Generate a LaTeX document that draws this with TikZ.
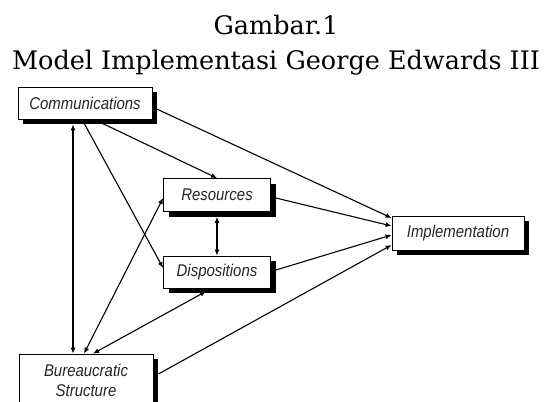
\documentclass[tikz,border=0pt]{standalone}
\usepackage{fontspec}
\setmainfont{DejaVu Serif}
\newfontfamily\boxfont[FakeStretch=0.88]{Liberation Sans}
\usetikzlibrary{arrows.meta,shadows}
\tikzset{
  factor/.style={draw,thick,fill=white,inner sep=0pt,align=center,
    font=\fontsize{17}{20}\selectfont\boxfont\itshape,text=black!85,
    drop shadow={shadow xshift=5pt,shadow yshift=-5pt,fill=black,opacity=1}},
  link/.style={line width=1.1pt,-{Latex[length=6pt,width=5pt]}},
  twolink/.style={line width=1.1pt,{Latex[length=6pt,width=5pt]}-{Latex[length=6pt,width=5pt]}}
}
\begin{document}
\begin{tikzpicture}[x=1pt,y=-1pt]
  \useasboundingbox[fill=white] (0,0) rectangle (545,401);
  \node[anchor=base,font=\fontsize{25.5}{35}\selectfont] (title1) at (276,35) {Gambar.1};
  \node[anchor=base,font=\fontsize{25.5}{35}\selectfont] (title2) at (276,70)
    {Model Implementasi George Edwards III};

  \node[factor,minimum width=134pt,minimum height=32pt] (comm) at (85,103) {Communications};
  \node[factor,minimum width=107pt,minimum height=33pt] (res) at (217,195) {Resources};
  \node[factor,minimum width=107pt,minimum height=32pt] (disp) at (217,272) {Dispositions};
  \node[factor,minimum width=132pt,minimum height=34pt] (impl) at (458,233) {Implementation};
  \node[factor,minimum width=134pt,minimum height=52pt] (bur) at (86,380)
    {Bureaucratic\\Structure};

  \draw[link] ([yshift=-4pt]comm.east) -- ([yshift=15pt]impl.west);
  \draw[link] ([xshift=9pt]comm.south) -- (res.north);
  \draw[link] ([xshift=-3pt]comm.south) -- ([yshift=4pt]disp.west);
  \draw[twolink] ([xshift=-12pt,yshift=-5pt]comm.south) -- ([xshift=-13pt]bur.north);
  \draw[twolink] ([xshift=-2pt]bur.north) -- ([yshift=-3pt]res.west);
  \draw[twolink] ([xshift=7pt]bur.north) -- ([xshift=-11pt,yshift=-3pt]disp.south);
  \draw[twolink] ([yshift=-5pt]res.south) -- (disp.north);
  \draw[link] ([xshift=5pt,yshift=-3pt]res.east) -- ([yshift=7pt]impl.west);
  \draw[link] ([xshift=5pt,yshift=2pt]disp.east) -- ([yshift=-2pt]impl.west);
  \draw[link] ([xshift=5pt,yshift=6pt]bur.east) -- ([yshift=-12pt]impl.west);
\end{tikzpicture}
\end{document}
